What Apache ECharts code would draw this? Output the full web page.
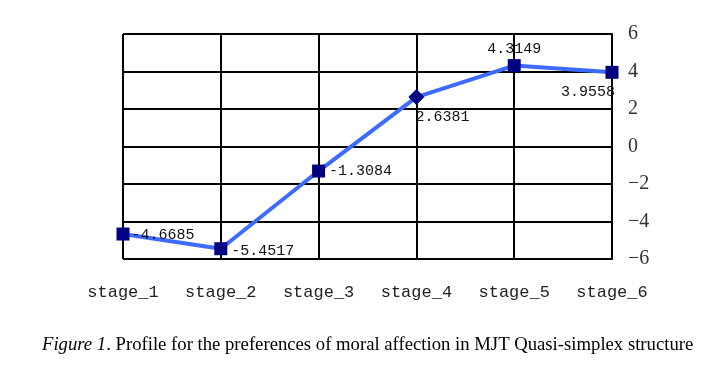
<!DOCTYPE html>
<html>
<head>
<meta charset="utf-8">
<script src="https://cdn.jsdelivr.net/npm/echarts@6/dist/echarts.min.js"></script>
<style>
  html, body { margin: 0; padding: 0; background: #fff; }
  #chart { width: 725px; height: 376px; }
</style>
</head>
<body>
<div id="chart"></div>
<script>
// data
var stages = ["stage_1", "stage_2", "stage_3", "stage_4", "stage_5", "stage_6"];
var scores = [-4.6685, -5.4517, -1.3084, 2.6381, 4.3149, 3.9558];
var markers = ["rect", "rect", "rect", "diamond", "rect", "rect"];
var labelPos = ["right", "right", "right", "bottom", "top", "bottom"];
var labelOffset = [[-2, 1], [0, 2], [0, 0], [26, 0], [0, 1], [-24, 2]];

var myChart = echarts.init(document.getElementById("chart"));

var points = scores.map(function (v, i) {
  return {
    value: v,
    symbol: markers[i],
    symbolSize: markers[i] === "diamond" ? 16 : 13,
    label: { position: labelPos[i], offset: labelOffset[i] }
  };
});

myChart.setOption({
  animation: false,
  title: {
    text: "{i|Figure 1}. Profile for the preferences of moral affection in MJT Quasi-simplex structure",
    left: 37,
    top: 331,
    textStyle: {
      fontFamily: "Liberation Serif",
      fontSize: 18.7,
      fontWeight: "normal",
      color: "#000",
      rich: {
        i: { fontFamily: "Liberation Serif", fontSize: 18.7, fontStyle: "italic", color: "#000" }
      }
    }
  },
  grid: { left: 123, right: 113, top: 34, bottom: 117 },
  xAxis: {
    type: "category",
    data: stages,
    boundaryGap: false,
    axisLine: { lineStyle: { color: "#000", width: 2 } },
    axisTick: { show: false },
    splitLine: { show: true, lineStyle: { color: "#000", width: 2 } },
    axisLabel: {
      margin: 25,
      fontFamily: "Liberation Mono",
      fontSize: 17,
      color: "#222"
    }
  },
  yAxis: {
    type: "value",
    position: "right",
    min: -6,
    max: 6,
    interval: 2,
    axisLine: { show: true, lineStyle: { color: "#000", width: 2 } },
    axisTick: { show: false },
    splitLine: { show: true, lineStyle: { color: "#000", width: 2 } },
    axisLabel: {
      margin: 16,
      fontFamily: "Liberation Serif",
      fontSize: 20,
      color: "#333",
      formatter: function (v) { return String(v).replace("-", "\u2212"); }
    }
  },
  series: [{
    type: "line",
    data: points,
    lineStyle: { color: "#3d6bff", width: 4 },
    itemStyle: { color: "#000080" },
    label: {
      show: true,
      distance: 4,
      fontFamily: "Liberation Mono",
      fontSize: 15,
      color: "#111",
      formatter: function (p) { return p.value.toFixed(4); }
    }
  }]
});
</script>
</body>
</html>
